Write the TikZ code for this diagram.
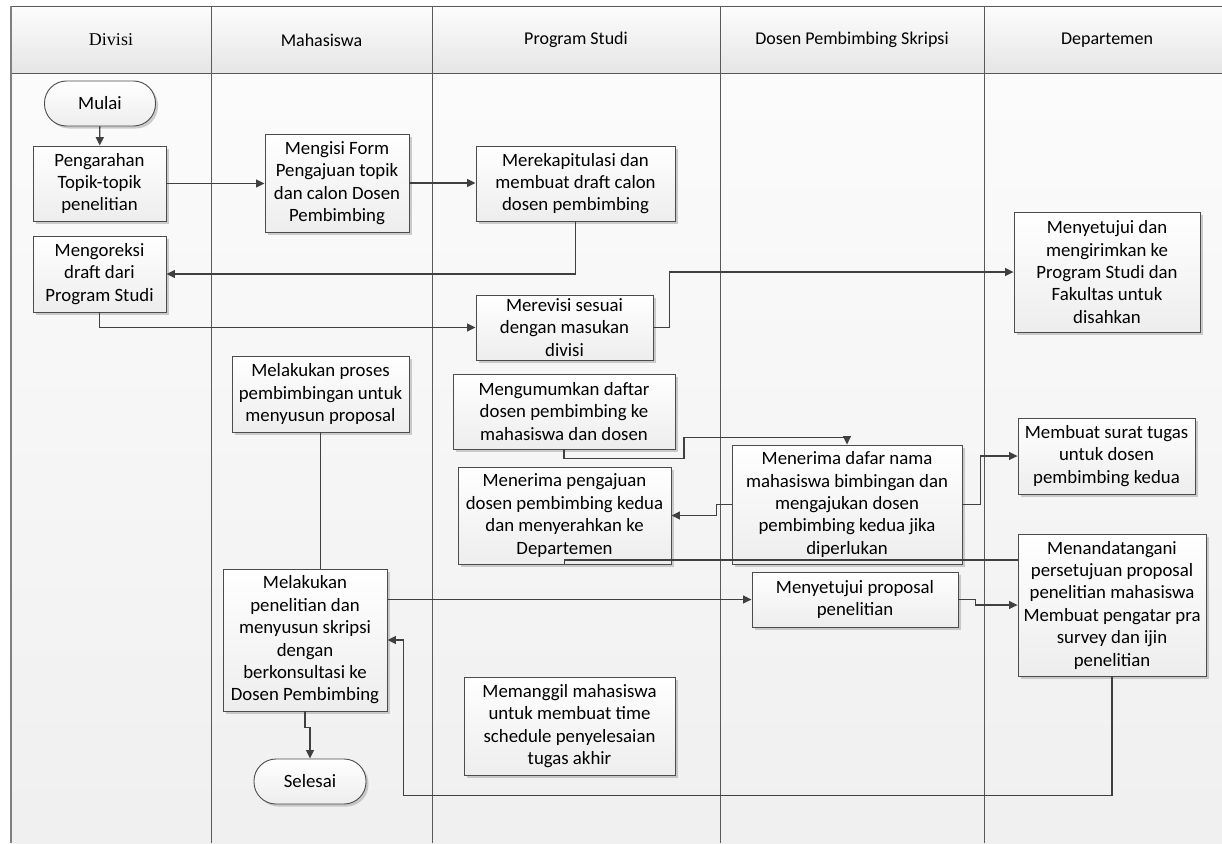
\documentclass[tikz,border=0pt]{standalone}
\usepackage{fontspec}
\setmainfont{Carlito}
\newfontfamily\headserif{Liberation Serif}
\usetikzlibrary{positioning, shapes, arrows.meta, calc, shadows}

\tikzset{
  proc/.style={draw=black!70, line width=0.9pt, top color=white, bottom color=gray!14,
    drop shadow={shadow xshift=2.5pt, shadow yshift=-2.5pt, fill=black!35, opacity=0.55},
    align=center, inner sep=2pt, font=\fontsize{18.8}{22.4}\selectfont},
  term/.style={proc, rounded corners=22pt},
  flow/.style={draw=black!75, line width=1.3pt, -{Triangle[length=8.5pt,width=8pt]}},
  link/.style={draw=black!75, line width=1.3pt},
  laneline/.style={draw=black!65, line width=0.9pt}
}

\begin{document}
\begin{tikzpicture}[x=1pt, y=-1pt, font=\fontsize{18}{22}\selectfont]
  \useasboundingbox (0,0) rectangle (1222,843);
  \clip (0,0) rectangle (1222,843);

  % Lanes
  \foreach \xa/\xb/\lane [count=\i] in {11/211/{\headserif Divisi}, 211/432/Mahasiswa,
      432/720/Program Studi, 720/984/Dosen Pembimbing Skripsi, 984/1230/Departemen} {
    \shade[top color=gray!3, bottom color=gray!12] (\xa,73) rectangle (\xb,843);
    \shade[top color=gray!2, bottom color=gray!20] (\xa,6) rectangle (\xb,73);
    \draw[laneline] (\xa,843) -- (\xa,6) -- (\xb,6) (\xa,73) -- (\xb,73);
    \node (lane\i) at ({(\xa+\xb)/2},40) {\lane};
  }
  \draw[black!50, line width=2pt] (11,6) -- (11,843);

  % Nodes
  \node[term, minimum width=111pt, minimum height=45pt] (mulai) at (100,103.5) {Mulai};
  \node[proc, minimum width=133pt, minimum height=75pt] (arahan) at (99.5,183.5) {Pengarahan\\Topik-topik\\penelitian};
  \node[proc, minimum width=144pt, minimum height=98pt] (isiform) at (337,183) {Mengisi Form\\Pengajuan topik\\dan calon Dosen\\Pembimbing};
  \node[proc, minimum width=199pt, minimum height=75pt] (rekap) at (575.5,183.5) {Merekapitulasi dan\\membuat draft calon\\dosen pembimbing};
  \node[proc, minimum width=133pt, minimum height=76pt] (koreksi) at (99.5,274) {Mengoreksi\\draft dari\\Program Studi};
  \node[proc, minimum width=177pt, minimum height=65pt] (revisi) at (564.5,327.5) {Merevisi sesuai\\dengan masukan\\divisi};
  \node[proc, minimum width=186pt, minimum height=120pt] (setujui) at (1107,272) {Menyetujui dan\\mengirimkan ke\\Program Studi dan\\Fakultas untuk\\disahkan};
  \node[proc, minimum width=177pt, minimum height=76pt] (proses) at (320.5,394) {Melakukan proses\\pembimbingan untuk\\menyusun proposal};
  \node[proc, minimum width=222pt, minimum height=75pt] (umumkan) at (564,411.5) {Mengumumkan daftar\\dosen pembimbing ke\\mahasiswa dan dosen};
  \node[proc, minimum width=213pt, minimum height=97pt] (pengajuan) at (564.5,515.5) {Menerima pengajuan\\dosen pembimbing kedua\\dan menyerahkan ke\\Departemen};
  \node[proc, minimum width=230pt, minimum height=119pt] (dafar) at (847,504.5) {Menerima dafar nama\\mahasiswa bimbingan dan\\mengajukan dosen\\pembimbing kedua jika\\diperlukan};
  \node[proc, minimum width=177pt, minimum height=76pt] (surat) at (1106.5,456) {Membuat surat tugas\\untuk dosen\\pembimbing kedua};
  \node[proc, minimum width=206pt, minimum height=55pt] (propsetuju) at (855,599.5) {Menyetujui proposal\\penelitian};
  \node[proc, minimum width=188pt, minimum height=142pt] (tanda) at (1112,605) {Menandatangani\\persetujuan proposal\\penelitian mahasiswa\\Membuat pengatar pra\\survey dan ijin\\penelitian};
  \node[proc, minimum width=164pt, minimum height=142pt] (penelitian) at (305,640) {Melakukan\\penelitian dan\\menyusun skripsi\\dengan\\berkonsultasi ke\\Dosen Pembimbing};
  \node[proc, minimum width=211pt, minimum height=98pt] (panggil) at (569.5,726) {Memanggil mahasiswa\\untuk membuat time\\schedule penyelesaian\\tugas akhir};
  \node[term, minimum width=112pt, minimum height=45pt] (selesai) at (310,781.5) {Selesai};

  % Arrows
  \draw[flow] (mulai) -- (arahan);
  \draw[flow] (arahan.east) -- (arahan.east -| isiform.west);
  \draw[flow] (isiform.east) -- (isiform.east -| rekap.west);
  \draw[flow] (rekap.south) |- (koreksi.east);
  \draw[flow] (koreksi.south) |- (revisi.west);
  \draw[flow] (revisi.east) -- ++(16,0) |- (setujui.west);
  \draw[link] (proses.south) -- (proses.south |- penelitian.north);
  \draw[flow] (penelitian.south) -- ++(0,16) -| (selesai.north);
  \draw[flow] (umumkan.south) -- ++(0,9) -- ++(120,0) -- ++(0,-21) -| (dafar.north);
  \draw[flow] (dafar.west) -- ++(-15,0) |- (pengajuan.east);
  \draw[flow] (dafar.east) -- ++(18,0) |- (surat.west);
  \draw[flow] (penelitian.east |- propsetuju.west) -- (propsetuju.west);
  \draw[flow] (propsetuju.east) -- ++(17,0) |- (tanda.west);
  \draw[link] ([yshift=45pt]tanda.west) -| (pengajuan.south);
  \draw[flow] (tanda.south) -- ++(0,119) -| ([xshift=16pt]penelitian.east) -- (penelitian.east);
\end{tikzpicture}
\end{document}
